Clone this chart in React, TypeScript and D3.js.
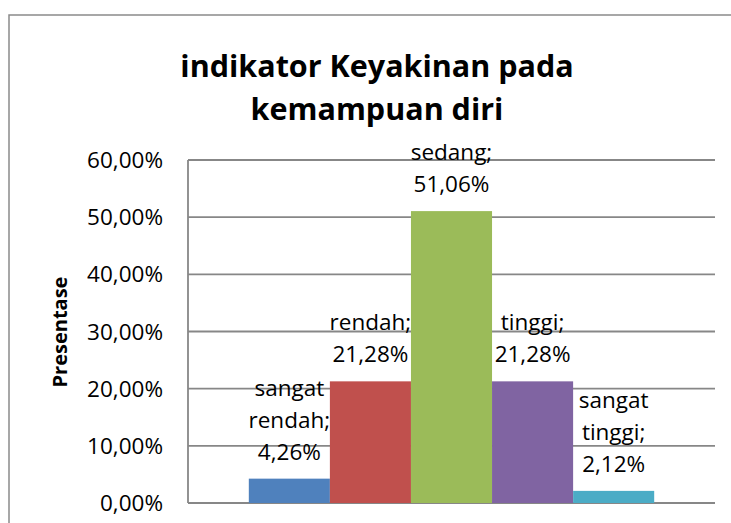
import * as d3 from 'd3'

const categories = ['sangat rendah', 'rendah', 'sedang', 'tinggi', 'sangat tinggi']
const values = [0.0426, 0.2128, 0.5106, 0.2128, 0.0212]
const colors = ['#4F81BD', '#C0504D', '#9BBB59', '#8064A2', '#4BACC6']
const yTicks = [0, 0.1, 0.2, 0.3, 0.4, 0.5, 0.6]
const titleLines = ['indikator Keyakinan pada', 'kemampuan diri']
const yTitle = 'Presentase'

const W = 731
const H = 523
const plot = { left: 188, right: 715, top: 160, bottom: 503 }
const font = "'Open Sans', 'Noto Sans', sans-serif"

const idLocale = d3.formatLocale({
  decimal: ',',
  thousands: '.',
  grouping: [3],
  currency: ['Rp', ''],
})
const pct = idLocale.format('.2%')

export default function App() {
  const y = d3.scaleLinear().domain([0, 0.6]).range([plot.bottom, plot.top])
  // one category, five series side by side, gap width ~150%
  const x = d3
    .scaleBand()
    .domain(categories)
    .range([plot.left, plot.right])
    .paddingInner(0)
    .paddingOuter(0.75)

  const labelLines = (i: number) => {
    const words = categories[i].split(' ')
    words[words.length - 1] += ';'
    return [...words, pct(values[i])]
  }

  return (
    <svg
      width={W}
      height={H}
      style={{ position: 'absolute', left: 0, top: 0, background: '#fff' }}
      fontFamily={font}
    >
      <rect x={9} y={15} width={W + 20} height={H} fill="#fff" stroke="#8a8a8a" strokeWidth={1.5} />

      {titleLines.map((t, i) => (
        <text
          key={t}
          x={377}
          y={77 + i * 43}
          textAnchor="middle"
          fontSize={30.5}
          fontWeight={700}
          fill="#000"
        >
          {t}
        </text>
      ))}

      {yTicks.map((t) => (
        <g key={t}>
          <line
            x1={plot.left}
            x2={plot.right}
            y1={y(t)}
            y2={y(t)}
            stroke="#878787"
            strokeWidth={1.8}
          />
          <text
            x={163}
            y={y(t) + 8}
            textAnchor="end"
            fontSize={22.5}
            fill="#000"
          >
            {pct(t)}
          </text>
        </g>
      ))}
      <line
        x1={plot.left}
        x2={plot.left}
        y1={plot.top}
        y2={plot.bottom}
        stroke="#878787"
        strokeWidth={1.8}
      />

      <text
        transform="translate(67,332) rotate(-90)"
        textAnchor="middle"
        fontSize={20}
        fontWeight={700}
        fill="#000"
      >
        {yTitle}
      </text>

      {categories.map((c, i) => (
        <rect
          key={c}
          x={x(c)}
          y={y(values[i])}
          width={x.bandwidth()}
          height={y(0) - y(values[i])}
          fill={colors[i]}
        />
      ))}

      {categories.map((c, i) => {
        const lines = labelLines(i)
        const cx = (x(c) as number) + x.bandwidth() / 2
        const last = y(values[i]) - 19
        return (
          <text key={c} textAnchor="middle" fontSize={22.5} fill="#000">
            {lines.map((l, j) => (
              <tspan key={j} x={cx} y={last - (lines.length - 1 - j) * 32}>
                {l}
              </tspan>
            ))}
          </text>
        )
      })}
    </svg>
  )
}
